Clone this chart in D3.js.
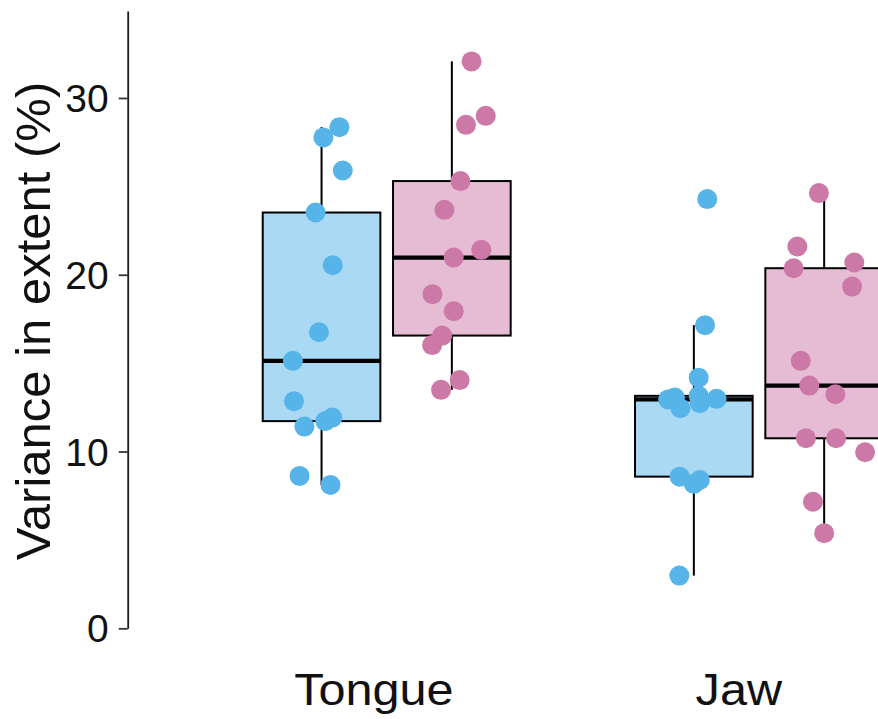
<!DOCTYPE html>
<html>
<head>
<meta charset="utf-8">
<script src="https://cdn.jsdelivr.net/npm/d3@7"></script>
<style>
  html, body { margin: 0; padding: 0; background: #fff; overflow: hidden; }
  text { font-family: "Liberation Sans", Arial, Helvetica, sans-serif; }
</style>
</head>
<body>
<svg id="chart" width="878" height="719"></svg>
<script>
// Articulator categories on the x axis
const categories = ["Tongue", "Jaw"];
// Two groups compared inside each category
const groups = ["Group 1", "Group 2"];
const groupColors = ["#56B4E9", "#CC79A7"];
const yTicks = [0, 10, 20, 30];
const yTitle = "Variance in extent (%)";

// Variance in extent (%) per participant
const tongueGroup1 = [28.35, 27.77, 25.90, 23.52, 20.54, 16.75, 15.13, 12.85, 11.41, 11.72, 11.92, 8.62, 8.11];
const tongueGroup2 = [32.07, 28.99, 28.48, 25.30, 23.67, 21.41, 20.97, 18.90, 17.94, 16.56, 16.02, 14.04, 13.49];
const jawGroup1    = [24.28, 17.15, 14.18, 13.05, 12.95, 12.45, 13.15, 12.73, 12.98, 8.58, 8.39, 8.17, 2.98];
const jawGroup2    = [24.62, 21.60, 20.37, 20.69, 19.33, 15.13, 13.73, 13.24, 10.75, 10.75, 9.96, 7.16, 5.38];

// Horizontal jitter of each point, in category units
const tongueGroup1Jitter = [0.048, 0.005, 0.057, -0.016, 0.030, -0.007, -0.077, -0.074, -0.046, 0.010, 0.029, -0.059, 0.024];
const tongueGroup2Jitter = [0.053, 0.091, 0.038, 0.023, -0.020, 0.079, 0.005, -0.052, 0.005, -0.026, -0.053, 0.021, -0.029];
const jawGroup1Jitter    = [0.036, 0.030, 0.013, -0.051, -0.069, -0.036, 0.013, 0.016, 0.061, -0.038, 0.016, 0.000, -0.039];
const jawGroup2Jitter    = [-0.014, -0.072, -0.082, 0.081, 0.075, -0.063, -0.040, 0.030, -0.049, 0.032, 0.110, -0.030, 0.000];

const series = [
  { cat: 0, grp: 0, values: tongueGroup1, jitter: tongueGroup1Jitter },
  { cat: 0, grp: 1, values: tongueGroup2, jitter: tongueGroup2Jitter },
  { cat: 1, grp: 0, values: jawGroup1,    jitter: jawGroup1Jitter },
  { cat: 1, grp: 1, values: jawGroup2,    jitter: jawGroup2Jitter }
];

const svg = d3.select("#chart");

// Scales
const y = d3.scaleLinear().domain([0, 34.92]).range([628.3, 11]);
const x = d3.scaleLinear().domain([0, 1]).range([386.7, 759]);   // category index -> px
const labelX = d3.scalePoint().domain(categories).range([373.4, 738.3]);
const dodge = 0.175;     // group offset from category centre
const boxWidth = 0.316;  // box width in category units

const gBoxes = svg.append("g");
const gPoints = svg.append("g");

series.forEach(s => {
  const sorted = s.values.slice().sort(d3.ascending);
  const q1 = d3.quantile(sorted, 0.25);
  const med = d3.quantile(sorted, 0.5);
  const q3 = d3.quantile(sorted, 0.75);
  const iqr = q3 - q1;
  const lo = d3.min(sorted.filter(v => v >= q1 - 1.5 * iqr));
  const hi = d3.max(sorted.filter(v => v <= q3 + 1.5 * iqr));
  const c = s.cat + (s.grp === 0 ? -dodge : dodge);
  const x0 = x(c - boxWidth / 2), x1 = x(c + boxWidth / 2), xc = x(c);
  const g = gBoxes.append("g");

  // whiskers
  g.append("line").attr("x1", xc).attr("x2", xc).attr("y1", y(q3)).attr("y2", y(hi))
    .attr("stroke", "#000").attr("stroke-width", 2);
  g.append("line").attr("x1", xc).attr("x2", xc).attr("y1", y(q1)).attr("y2", y(lo))
    .attr("stroke", "#000").attr("stroke-width", 2);
  // box
  g.append("rect").attr("x", x0).attr("y", y(q3)).attr("width", x1 - x0).attr("height", y(q1) - y(q3))
    .attr("fill", groupColors[s.grp]).attr("fill-opacity", 0.5)
    .attr("stroke", "#000").attr("stroke-width", 2);
  // median
  g.append("line").attr("x1", x0).attr("x2", x1).attr("y1", y(med)).attr("y2", y(med))
    .attr("stroke", "#000").attr("stroke-width", 4.3);

  // jittered points
  gPoints.append("g").selectAll("circle")
    .data(s.values.map((v, i) => ({ v, j: s.jitter[i] })))
    .join("circle")
    .attr("cx", d => x(c + d.j))
    .attr("cy", d => y(d.v))
    .attr("r", 10)
    .attr("fill", groupColors[s.grp]);
});

// Y axis
const yAxis = svg.append("g")
  .attr("transform", "translate(127.7,0)")
  .call(d3.axisLeft(y).tickValues(yTicks).tickSize(9).tickSizeOuter(0).tickPadding(10));
yAxis.select(".domain").attr("stroke", "#1a1a1a").attr("stroke-width", 1.8);
yAxis.selectAll(".tick line").attr("stroke", "#333").attr("stroke-width", 1.8);
yAxis.selectAll(".tick text")
  .attr("font-size", 39).attr("fill", "#111")
  .attr("font-family", "'Liberation Sans', Arial, sans-serif")
  .attr("dy", "0.35em");

// X axis labels
const xAxis = svg.append("g")
  .attr("transform", "translate(0,705)")
  .call(d3.axisBottom(labelX).tickSize(0).tickPadding(0));
xAxis.select(".domain").remove();
xAxis.selectAll(".tick text")
  .attr("font-size", 45).attr("fill", "#111")
  .attr("font-family", "'Liberation Sans', Arial, sans-serif")
  .attr("dy", 0)
  .each(function () {
    const w = this.getComputedTextLength();
    d3.select(this).attr("textLength", w * 1.08).attr("lengthAdjust", "spacingAndGlyphs");
  });

// Y title
svg.append("text")
  .attr("transform", "translate(50,321) rotate(-90)")
  .attr("text-anchor", "middle")
  .attr("font-size", 49)
  .attr("fill", "#111")
  .text(yTitle);
</script>
</body>
</html>
